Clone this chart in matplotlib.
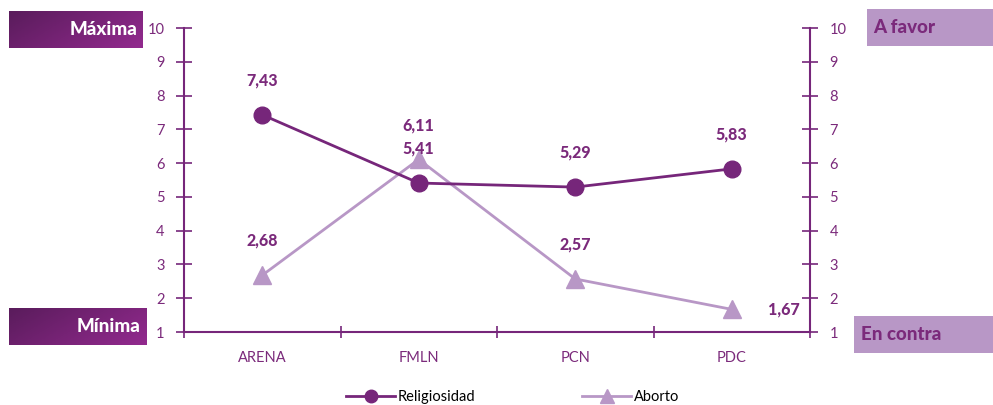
import matplotlib
matplotlib.use('Agg')
import matplotlib.pyplot as plt
import numpy as np

plt.rcParams['font.family'] = ['Lato', 'DejaVu Sans']

# data
partidos = ['ARENA', 'FMLN', 'PCN', 'PDC']
religiosidad = [7.43, 5.41, 5.29, 5.83]
aborto = [2.68, 6.11, 2.57, 1.67]
yticks = list(range(1, 11))

dark = '#76267a'
light = '#b897c6'
txt = '#7b2a7b'

fig = plt.figure(figsize=(9.93, 4.05), dpi=100)
ax = fig.add_axes([184 / 993, 1 - 332 / 405, 626 / 993, 304 / 405])
x = np.arange(len(partidos))

ax.plot(x, religiosidad, color=dark, lw=2.0, marker='o', ms=12, zorder=3,
        label='Religiosidad')
ax.plot(x, aborto, color=light, lw=2.0, marker='^', ms=13, zorder=2,
        label='Aborto')

ax.set_xlim(-0.5, len(partidos) - 0.5)
ax.set_ylim(1, 10)
ax.set_xticks(x)
ax.set_xticklabels(partidos)
ax.set_xticks(np.arange(-0.5, len(partidos), 1), minor=True)
ax.tick_params(axis='x', which='major', length=0, pad=14, labelsize=10.5, labelcolor=txt)
ax.tick_params(axis='x', which='minor', length=8, direction='inout', color=dark, width=1.2)
ax.set_yticks(yticks)
ax.tick_params(axis='y', length=12, direction='inout', color=dark, width=1.2,
               labelsize=10.5, labelcolor=txt, pad=8)

for s in ['left', 'right', 'bottom']:
    ax.spines[s].set_color(dark)
    ax.spines[s].set_linewidth(1.5)
ax.spines['top'].set_visible(False)

ax2 = ax.twinx()
ax2.set_ylim(1, 10)
ax2.set_yticks(yticks)
ax2.tick_params(axis='y', length=12, direction='inout', color=dark, width=1.2,
                labelsize=10.5, labelcolor=txt, pad=8)
for s in ['left', 'right', 'bottom', 'top']:
    ax2.spines[s].set_visible(False)

# value labels
def fmt(v):
    return f'{v:.2f}'.replace('.', ',')

lbl = dict(fontsize=11.5, fontweight='black', color=txt)
for i, v in enumerate(religiosidad):
    ax.annotate(fmt(v), (i, v), xytext=(0, 19), textcoords='offset points',
                ha='center', va='bottom', **lbl)
for i, v in enumerate(aborto):
    if i == len(aborto) - 1:
        ax.annotate(fmt(v), (i, v), xytext=(26, 0), textcoords='offset points',
                    ha='left', va='center', **lbl)
    else:
        ax.annotate(fmt(v), (i, v), xytext=(0, 19), textcoords='offset points',
                    ha='center', va='bottom', **lbl)

# side boxes
grad = np.linspace(0, 1, 100)[None, :] * 0.7 + np.linspace(0, 1, 20)[:, None] * 0.3
cmap = matplotlib.colors.LinearSegmentedColormap.from_list('g', ['#5a1c5c', '#922a8e'])

def grad_box(x0, y0, w, h, label):
    bax = fig.add_axes([x0 / 993, 1 - (y0 + h) / 405, w / 993, h / 405])
    bax.imshow(grad, cmap=cmap, aspect='auto', extent=[0, 1, 0, 1])
    bax.set_axis_off()
    bax.text(0.96, 0.5, label, ha='right', va='center', color='white',
             fontsize=13.5, fontweight='black', transform=bax.transAxes)

def flat_box(x0, y0, w, h, label):
    bax = fig.add_axes([x0 / 993, 1 - (y0 + h) / 405, w / 993, h / 405])
    bax.set_facecolor(light)
    bax.set_xticks([])
    bax.set_yticks([])
    for s in bax.spines.values():
        s.set_visible(False)
    bax.text(0.05, 0.5, label, ha='left', va='center', color=txt,
             fontsize=13.5, fontweight='black', transform=bax.transAxes)

grad_box(9, 11, 134, 37, 'Máxima')
grad_box(9, 308, 137, 37, 'Mínima')
flat_box(867, 9, 126, 37, 'A favor')
flat_box(854, 316, 139, 37, 'En contra')

fig.legend(loc='lower center', bbox_to_anchor=(0.516, -0.03), ncol=2, frameon=False,
           fontsize=10.5, columnspacing=7.3, handlelength=3.4, handletextpad=0.15,
           markerscale=0.75)

fig.savefig('out.png', dpi=100)
